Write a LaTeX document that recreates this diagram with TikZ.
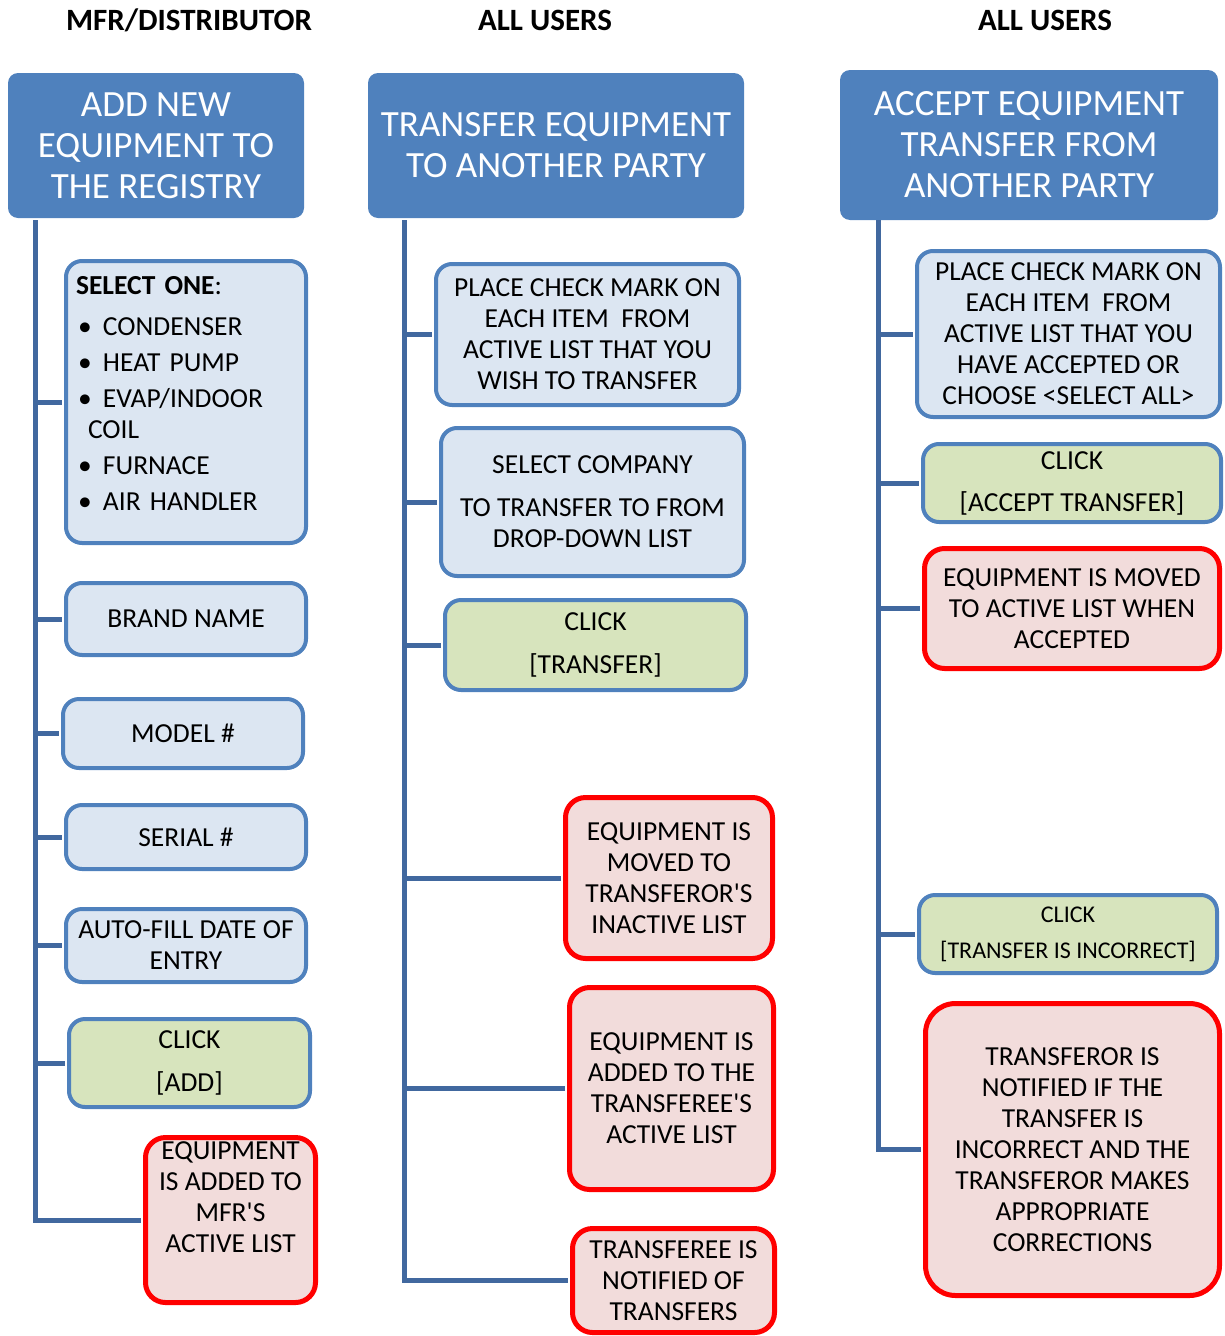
\documentclass[tikz,border=0pt]{standalone}
\usepackage{fontspec}
\setmainfont{Carlito}
\usepackage{tikz}
\usetikzlibrary{positioning}

\definecolor{hdrblue}{HTML}{4F81BD}
\definecolor{stepfill}{HTML}{DCE6F2}
\definecolor{clickfill}{HTML}{D7E4BD}
\definecolor{resultfill}{HTML}{F2DCDB}
\definecolor{linkblue}{HTML}{41689F}

\begin{document}
\begin{tikzpicture}[x=1pt, y=-1pt,
        sz/.style 2 args={minimum width=#1pt, minimum height=#2pt},
        title/.style={font=\fontsize{31}{36}\selectfont\bfseries},
        hdr/.style={rectangle, rounded corners=10pt, fill=hdrblue, text=white, align=center, inner sep=0pt,
            font=\fontsize{37}{41}\selectfont},
        stepbox/.style={rectangle, rounded corners=16pt, draw=hdrblue, line width=4pt, fill=stepfill,
            align=center, inner sep=0pt, font=\fontsize{27.5}{31}\selectfont},
        clickbox/.style={stepbox, fill=clickfill},
        resultbox/.style={stepbox, draw=red, fill=resultfill, line width=5pt, rounded corners=20pt},
        link/.style={draw=linkblue, line width=5pt, shorten >=2.5pt}]
        \useasboundingbox (0,0) rectangle (1225,1336);

        % column titles
        \node[title] (t1) at (189,20) {MFR/DISTRIBUTOR};
        \node[title] (t2) at (545,20) {ALL USERS};
        \node[title] (t3) at (1045,20) {ALL USERS};

        % headers
        \node[hdr, sz={296}{145}] (h1) at (156,145.5) {ADD NEW\\EQUIPMENT TO\\THE REGISTRY};
        \node[hdr, sz={376}{145}] (h2) at (556,145.5) {TRANSFER EQUIPMENT\\TO ANOTHER PARTY};
        \node[hdr, sz={378}{150}] (h3) at (1029,145) {ACCEPT EQUIPMENT\\TRANSFER FROM\\ANOTHER PARTY};

        % add new equipment
        \node[stepbox, sz={240}{282}, align=left, text width=220pt, inner xsep=10pt] (sel) at (186,402)
            {\textbf{SELECT ONE}:\\[10pt]
             \makebox[27pt][l]{\hspace{2pt}\textbullet}CONDENSER\\[5pt]
             \makebox[27pt][l]{\hspace{2pt}\textbullet}HEAT PUMP\\[5pt]
             \makebox[27pt][l]{\hspace{2pt}\textbullet}EVAP/INDOOR\\
             \hspace*{12pt}COIL\\[5pt]
             \makebox[27pt][l]{\hspace{2pt}\textbullet}FURNACE\\[5pt]
             \makebox[27pt][l]{\hspace{2pt}\textbullet}AIR HANDLER\\[-13pt]\mbox{}};
        \node[stepbox, sz={240}{72}] (brand) at (186,619) {BRAND NAME};
        \node[stepbox, sz={240}{69}] (model) at (183,733.5) {MODEL \#};
        \node[stepbox, sz={240}{64}] (serial) at (186,837) {SERIAL \#};
        \node[stepbox, sz={240}{73}] (autofill) at (186,945.5) {AUTO-FILL DATE OF\\ENTRY};
        \node[clickbox, sz={241}{88}] (add) at (189.5,1063) {CLICK\\[12pt][ADD]};
        \node[resultbox, sz={170}{165}] (added1) at (230.5,1220)
            {EQUIPMENT\\IS ADDED TO\\MFR\textquotesingle S\\ACTIVE LIST\\[14pt]\mbox{}};

        % transfer equipment
        \node[stepbox, sz={303}{141}] (check2) at (587.5,334.5)
            {PLACE CHECK MARK ON\\EACH ITEM \ FROM\\ACTIVE LIST THAT YOU\\WISH TO TRANSFER};
        \node[stepbox, sz={303}{148}] (company) at (592.5,502)
            {SELECT COMPANY\\[12pt]TO TRANSFER TO FROM\\DROP-DOWN LIST};
        \node[clickbox, sz={301}{90}] (transfer) at (595.5,645) {CLICK\\[12pt][TRANSFER]};
        \node[resultbox, sz={207}{161}] (moved2) at (669,878)
            {EQUIPMENT IS\\MOVED TO\\TRANSFEROR\textquotesingle S\\INACTIVE LIST};
        \node[resultbox, sz={204}{202}] (added2) at (671.5,1088.5)
            {EQUIPMENT IS\\ADDED TO THE\\TRANSFEREE\textquotesingle S\\ACTIVE LIST};
        \node[resultbox, sz={202}{104}] (notified2) at (673.5,1280.5)
            {TRANSFEREE IS\\NOTIFIED OF\\TRANSFERS};

        % accept equipment transfer
        \node[stepbox, sz={303}{166}] (check3) at (1068.5,334)
            {PLACE CHECK MARK ON\\EACH ITEM \ FROM\\ACTIVE LIST THAT YOU\\HAVE ACCEPTED OR\\CHOOSE <SELECT ALL>};
        \node[clickbox, sz={298}{78}] (accept) at (1072,483) {CLICK\\[11pt][ACCEPT TRANSFER]};
        \node[resultbox, sz={295}{120}] (moved3) at (1072,608.5)
            {EQUIPMENT IS MOVED\\TO ACTIVE LIST WHEN\\ACCEPTED};
        \node[clickbox, sz={298}{78}, font=\fontsize{24}{26}\selectfont] (incorrect) at (1068,934)
            {CLICK\\[10pt][TRANSFER IS INCORRECT]};
        \node[resultbox, sz={294}{292}, rounded corners=30pt] (notified3) at (1072.5,1149.5)
            {TRANSFEROR IS\\NOTIFIED IF THE\\TRANSFER IS\\INCORRECT AND THE\\TRANSFEROR MAKES\\APPROPRIATE\\CORRECTIONS};

        % trunk lines
        \coordinate (r1) at (35,220);
        \coordinate (r2) at (404,220);
        \coordinate (r3) at (878,220);

        \foreach \n in {sel,brand,model,serial,autofill,add,added1}
            \draw[link] (r1) |- (\n.west);
        \foreach \n in {check2,company,transfer,moved2,added2,notified2}
            \draw[link] (r2) |- (\n.west);
        \foreach \n in {check3,accept,moved3,incorrect,notified3}
            \draw[link] (r3) |- (\n.west);
    \end{tikzpicture}
\end{document}
